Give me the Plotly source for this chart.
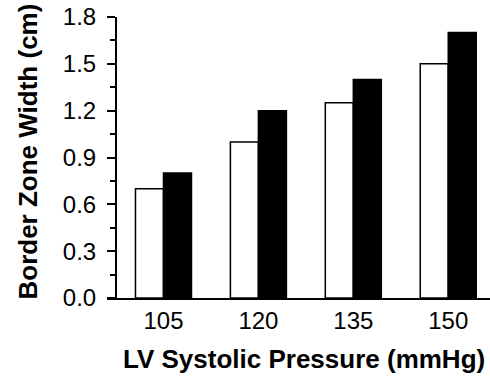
import plotly.graph_objects as go

pressures = ["105", "120", "135", "150"]
white_vals = [0.70, 1.00, 1.25, 1.50]
black_vals = [0.80, 1.20, 1.40, 1.70]
y_ticks = [0.0, 0.3, 0.6, 0.9, 1.2, 1.5, 1.8]
y_tick_text = ["0.0", "0.3", "0.6", "0.9", "1.2", "1.5", "1.8"]
x_title = "LV Systolic Pressure (mmHg)"
y_title = "Border Zone Width (cm)"

FONT = "Liberation Sans, Arial, Helvetica, sans-serif"

fig = go.Figure()
fig.add_trace(go.Bar(x=pressures, y=white_vals, marker=dict(color="white", line=dict(color="black", width=1.5)),
                     showlegend=False, hoverinfo="skip"))
fig.add_trace(go.Bar(x=pressures, y=black_vals, marker=dict(color="black", line=dict(color="black", width=1.5)),
                     showlegend=False, hoverinfo="skip"))

fig.update_layout(
    width=490, height=377,
    margin=dict(l=107, r=0, t=17, b=79),
    paper_bgcolor="white", plot_bgcolor="white",
    barmode="group", bargap=0.41, bargroupgap=0,
    font=dict(family=FONT, color="black", size=24),
    xaxis=dict(
        range=[-0.595, 3.44], showline=True, linecolor="black", linewidth=2,
        ticks="", showgrid=False, zeroline=False, automargin=False,
        tickfont=dict(size=24),
    ),
    yaxis=dict(
        range=[0, 1.8], anchor="free", position=9/383,
        showline=True, linecolor="black", linewidth=2, automargin=False,
        tickvals=y_ticks, ticktext=y_tick_text,
        ticks="outside", ticklen=8, tickwidth=2, tickcolor="black",
        ticklabelstandoff=6,
        minor=dict(dtick=0.15, tick0=0, ticks="outside", ticklen=5, tickwidth=1.5, tickcolor="black", showgrid=False),
        showgrid=False, zeroline=False,
        tickfont=dict(size=24),
    ),
    annotations=[
        dict(text=f"<b>{x_title}</b>", xref="paper", yref="paper", x=(304-107)/383, y=(298-359)/281,
             xanchor="center", yanchor="middle", showarrow=False, font=dict(size=26)),
        dict(text=f"<b>{y_title}</b>", xref="paper", yref="paper", x=(27-107)/383, y=(298-151.5)/281,
             xanchor="center", yanchor="middle", textangle=-90, showarrow=False, font=dict(size=26)),
    ],
)

fig.write_html("out.html", config={"displayModeBar": False},
               post_script="document.body.style.margin='0';document.body.style.overflow='hidden';")
